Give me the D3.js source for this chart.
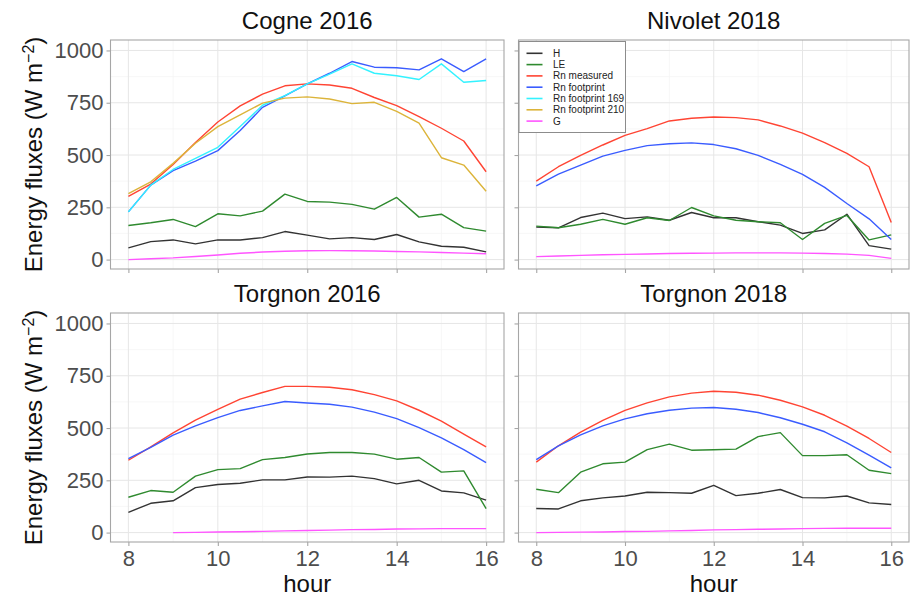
<!DOCTYPE html>
<html>
<head>
<meta charset="utf-8">
<script src="https://cdn.jsdelivr.net/npm/d3@7"></script>
<style>
  html, body { margin: 0; padding: 0; background: #fff; }
  svg { display: block; font-family: "Liberation Sans", Arial, sans-serif; }
</style>
</head>
<body>
<svg id="chart" width="910" height="598"></svg>
<script>
// ---------------- DATA ----------------
const hours = [8, 8.5, 9, 9.5, 10, 10.5, 11, 11.5, 12, 12.5, 13, 13.5, 14, 14.5, 15, 15.5, 16];
const seriesNames = ["H", "LE", "Rn measured", "Rn footprint", "Rn footprint 169", "Rn footprint 210", "G"];
const seriesColors = ["#333333", "#2f8a2f", "#ff4433", "#3a5cff", "#33f2ff", "#dcb43a", "#ff55ff"];
const panelTitles = ["Cogne 2016", "Nivolet 2018", "Torgnon 2016", "Torgnon 2018"];
const yTicks = [0, 250, 500, 750, 1000];
const xTicks = [8, 10, 12, 14, 16];

// Cogne 2016
const cogneH      = [56, 86, 94, 75, 94, 94, 105, 134, 117, 99, 105, 96, 120, 85, 64, 59, 37];
const cogneLE     = [163, 176, 192, 158, 219, 209, 232, 313, 278, 275, 264, 241, 297, 203, 217, 153, 136];
const cogneRn     = [302, 361, 455, 560, 658, 735, 791, 831, 840, 835, 819, 775, 736, 684, 628, 567, 420];
const cogneRnF    = [228, 356, 425, 471, 521, 617, 728, 783, 840, 891, 947, 920, 917, 907, 960, 899, 960];
const cogneRnF169 = [228, 356, 431, 484, 537, 636, 738, 784, 840, 887, 936, 891, 879, 861, 936, 848, 856];
const cogneRnF210 = [315, 372, 460, 556, 636, 692, 748, 772, 778, 768, 746, 752, 709, 652, 487, 452, 327];
const cogneG      = [0, 4, 8, 15, 22, 30, 36, 40, 42, 43, 42, 41, 39, 37, 34, 31, 28];

// Nivolet 2018
const nivoletH   = [155, 152, 201, 222, 196, 204, 188, 225, 200, 200, 181, 165, 125, 142, 217, 67, 50];
const nivoletLE  = [160, 152, 169, 192, 169, 200, 187, 249, 209, 188, 181, 176, 96, 173, 211, 94, 118];
const nivoletRn  = [375, 444, 498, 548, 594, 626, 663, 676, 682, 679, 668, 639, 605, 559, 508, 444, 177];
const nivoletRnF = [353, 409, 452, 495, 522, 545, 554, 558, 550, 530, 498, 455, 407, 345, 268, 195, 96];
const nivoletG   = [14, 17, 20, 23, 25, 27, 29, 30, 31, 32, 32, 32, 31, 29, 26, 20, 6];

// Torgnon 2016
const torgnon16H   = [97, 140, 152, 215, 230, 236, 252, 252, 266, 265, 270, 258, 233, 250, 199, 190, 155];
const torgnon16LE  = [169, 201, 193, 270, 301, 306, 349, 359, 376, 383, 383, 375, 351, 359, 289, 295, 115];
const torgnon16Rn  = [346, 410, 477, 538, 589, 638, 670, 699, 699, 695, 683, 660, 630, 585, 533, 471, 410];
const torgnon16RnF = [354, 407, 466, 510, 550, 584, 606, 627, 620, 614, 600, 576, 545, 502, 453, 397, 335];
const torgnon16G   = [null, null, 0, 1, 3, 4, 6, 8, 10, 12, 14, 15, 17, 18, 19, 19, 19];

// Torgnon 2018
const torgnon18H   = [115, 113, 152, 166, 175, 193, 191, 188, 226, 177, 188, 206, 167, 166, 175, 142, 134];
const torgnon18LE  = [207, 191, 289, 329, 337, 397, 423, 394, 396, 399, 459, 478, 368, 368, 372, 298, 282];
const torgnon18Rn  = [337, 415, 480, 537, 584, 620, 649, 667, 676, 671, 657, 633, 601, 561, 509, 450, 383];
const torgnon18RnF = [349, 415, 467, 510, 544, 568, 585, 595, 598, 590, 574, 549, 518, 482, 429, 370, 309];
const torgnon18G   = [0, 1, 2, 3, 5, 6, 8, 10, 13, 14, 16, 17, 19, 20, 21, 21, 21];

// ---------------- LAYOUT ----------------
const panelData = [
  { H: cogneH, LE: cogneLE, "Rn measured": cogneRn, "Rn footprint": cogneRnF,
    "Rn footprint 169": cogneRnF169, "Rn footprint 210": cogneRnF210, G: cogneG },
  { H: nivoletH, LE: nivoletLE, "Rn measured": nivoletRn, "Rn footprint": nivoletRnF, G: nivoletG },
  { H: torgnon16H, LE: torgnon16LE, "Rn measured": torgnon16Rn, "Rn footprint": torgnon16RnF, G: torgnon16G },
  { H: torgnon18H, LE: torgnon18LE, "Rn measured": torgnon18Rn, "Rn footprint": torgnon18RnF, G: torgnon18G }
];
const colX = [[110.5, 504], [518.5, 909]];
const rowY = [[40, 269], [313, 542]];

const svg = d3.select("#chart");
const color = d3.scaleOrdinal().domain(seriesNames).range(seriesColors);
const gridMajor = "#e6e6e6", gridMinor = "#f3f3f3", frameCol = "#a6a6a6", tickTextCol = "#4d4d4d";

panelData.forEach((pd, i) => {
  const c = i % 2, r = Math.floor(i / 2);
  const [x0, x1] = colX[c], [y0, y1] = rowY[r];
  const x = d3.scaleLinear().domain([7.6, 16.4]).range([x0, x1]);
  const y = d3.scaleLinear().domain([-45, 1050]).range([y1, y0]);
  const g = svg.append("g");

  // background
  g.append("rect").attr("x", x0).attr("y", y0).attr("width", x1 - x0).attr("height", y1 - y0).attr("fill", "#fff");

  // minor grid
  [9, 11, 13, 15].forEach(v => g.append("line").attr("x1", x(v)).attr("x2", x(v)).attr("y1", y0).attr("y2", y1)
    .attr("stroke", gridMinor).attr("stroke-width", 0.7));
  [125, 375, 625, 875].forEach(v => g.append("line").attr("y1", y(v)).attr("y2", y(v)).attr("x1", x0).attr("x2", x1)
    .attr("stroke", gridMinor).attr("stroke-width", 0.7));
  // major grid
  xTicks.forEach(v => g.append("line").attr("x1", x(v)).attr("x2", x(v)).attr("y1", y0).attr("y2", y1)
    .attr("stroke", gridMajor).attr("stroke-width", 1));
  yTicks.forEach(v => g.append("line").attr("y1", y(v)).attr("y2", y(v)).attr("x1", x0).attr("x2", x1)
    .attr("stroke", gridMajor).attr("stroke-width", 1));

  // lines
  const line = d3.line().defined(d => d[1] !== null).x(d => x(d[0])).y(d => y(d[1]));
  seriesNames.forEach(name => {
    const vals = pd[name];
    if (!vals) return;
    g.append("path").datum(hours.map((h, k) => [h, vals[k]]))
      .attr("d", line).attr("fill", "none").attr("stroke", color(name))
      .attr("stroke-width", 1.4).attr("stroke-linejoin", "round");
  });

  // frame
  g.append("rect").attr("x", x0).attr("y", y0).attr("width", x1 - x0).attr("height", y1 - y0)
    .attr("fill", "none").attr("stroke", frameCol).attr("stroke-width", 1.1);

  // axes
  const yAxis = g.append("g").attr("transform", `translate(${x0},0)`)
    .call(d3.axisLeft(y).tickValues(yTicks).tickSize(4).tickPadding(3).tickFormat(c === 0 ? d3.format("d") : () => ""));
  const xAxis = g.append("g").attr("transform", `translate(0,${y1})`)
    .call(d3.axisBottom(x).tickValues(xTicks).tickSize(4).tickPadding(3).tickFormat(r === 1 ? d3.format("d") : () => ""));
  [yAxis, xAxis].forEach(a => {
    a.select(".domain").remove();
    a.selectAll(".tick line").attr("stroke", frameCol).attr("stroke-width", 1.1);
    a.selectAll(".tick text").attr("fill", tickTextCol).style("font-size", "22px")
      .style("font-family", "Liberation Sans, Arial, sans-serif");
  });
  xAxis.selectAll(".tick text").attr("dy", "0.78em");

  // panel title
  g.append("text").attr("x", (x0 + x1) / 2).attr("y", y0 - 11).attr("text-anchor", "middle")
    .style("font-size", "24px").attr("fill", "#111").text(panelTitles[i]);

  // axis titles
  if (r === 1) {
    g.append("text").attr("x", (x0 + x1) / 2).attr("y", 592).attr("text-anchor", "middle")
      .style("font-size", "24px").attr("fill", "#111").text("hour");
  }
  if (c === 0) {
    const t = g.append("text").attr("transform", `translate(42,${(y0 + y1) / 2}) rotate(-90)`)
      .attr("text-anchor", "middle").style("font-size", "24px").attr("fill", "#111");
    t.append("tspan").text("Energy fluxes (W m");
    t.append("tspan").attr("baseline-shift", "super").style("font-size", "16px").text("\u22122");
    t.append("tspan").text(")");
  }

  // legend in top-right panel
  if (i === 1) {
    const lg = g.append("g");
    lg.append("rect").attr("x", 519).attr("y", 41.5).attr("width", 106.5).attr("height", 91)
      .attr("fill", "#fff").attr("stroke", "#8c8c8c").attr("stroke-width", 1);
    seriesNames.forEach((name, k) => {
      const yy = 53.3 + k * 11.3;
      lg.append("line").attr("x1", 526.5).attr("x2", 542.5).attr("y1", yy).attr("y2", yy)
        .attr("stroke", color(name)).attr("stroke-width", 1.6);
      lg.append("text").attr("x", 553).attr("y", yy).attr("dy", "0.35em")
        .style("font-size", "10px").attr("fill", "#222").text(name);
    });
  }
});
</script>
</body>
</html>
